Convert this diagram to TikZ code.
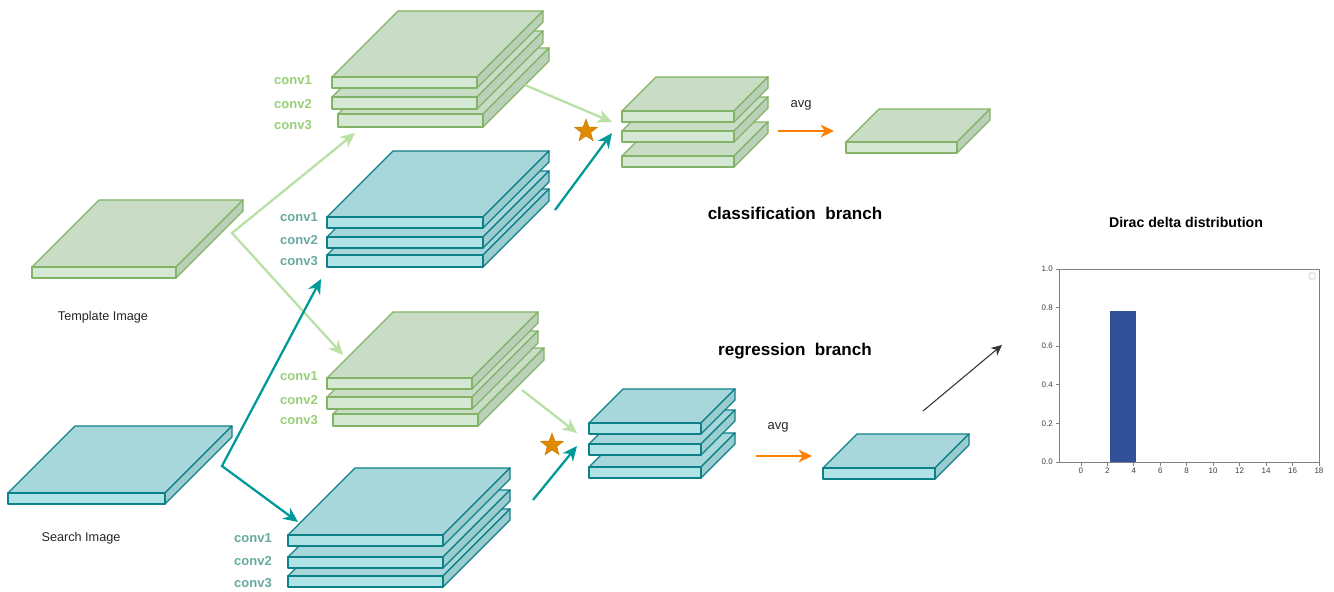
\documentclass[tikz,border=0pt]{standalone}
\usepackage{fontspec}
\setmainfont{Liberation Sans}
\usetikzlibrary{arrows.meta,shapes.geometric}

\definecolor{gFront}{HTML}{D5E8D4}
\definecolor{gTop}{HTML}{C8DCC6}
\definecolor{gSide}{HTML}{BAD0B8}
\definecolor{gLine}{HTML}{82B366}
\definecolor{gText}{HTML}{97D077}
\definecolor{gArrow}{HTML}{B9E0A5}
\definecolor{tFront}{HTML}{B0E3E6}
\definecolor{tTop}{HTML}{A7D7DB}
\definecolor{tSide}{HTML}{9BCCD0}
\definecolor{tLine}{HTML}{0E8088}
\definecolor{tText}{HTML}{67AB9F}
\definecolor{tArrow}{HTML}{009999}
\definecolor{avgArrow}{HTML}{FF8000}
\definecolor{starFill}{HTML}{E08A00}
\definecolor{barBlue}{HTML}{31509A}
\definecolor{axisGray}{HTML}{808080}

% one flat feature-map slab: front face (x1,y1)-(x2,y2), depth offset d
\newcommand\layerslab[6]{%
  \filldraw[#6top] (#1,#2) -- ({#1+#5},{#2-#5}) -- ({#3+#5},{#2-#5}) -- (#3,#2) -- cycle;
  \filldraw[#6side] (#3,#2) -- ({#3+#5},{#2-#5}) -- ({#3+#5},{#4-#5}) -- (#3,#4) -- cycle;
  \filldraw[#6front] (#1,#2) rectangle (#3,#4);
}

\tikzset{
  slabline/.style={line width=1pt, line join=round},
  gtop/.style={slabline, draw=gLine, fill=gTop},
  gside/.style={slabline, draw=gLine, fill=gSide},
  gfront/.style={slabline, draw=gLine, fill=gFront},
  ttop/.style={slabline, draw=tLine, fill=tTop},
  tside/.style={slabline, draw=tLine, fill=tSide},
  tfront/.style={slabline, draw=tLine, fill=tFront},
  convg/.style={anchor=east, text=gText, font=\fontsize{9.75}{11}\selectfont\bfseries, inner sep=0pt},
  convt/.style={anchor=east, text=tText, font=\fontsize{9.75}{11}\selectfont\bfseries, inner sep=0pt},
  caption/.style={font=\fontsize{9.5}{11}\selectfont, text=black!85, inner sep=0pt},
  branch/.style={font=\fontsize{12.8}{14}\selectfont\bfseries, inner sep=0pt},
  bigtip/.style={Stealth[length=11pt,width=10pt,inset=3.5pt]},
  garrow/.style={draw=gArrow, line width=1.7pt, -{Stealth[length=11pt,width=10pt,inset=3.5pt]}},
  tarrow/.style={draw=tArrow, line width=1.7pt, -{Stealth[length=11pt,width=10pt,inset=3.5pt]}},
  oarrow/.style={draw=avgArrow, line width=1.7pt, -{Stealth[length=10pt,width=9.5pt,inset=3pt]}},
  karrow/.style={draw=black!80, line width=0.8pt, -{Stealth[length=8pt,width=7.5pt,inset=2.5pt]}},
  starnode/.style={star, star points=5, star point ratio=2.4, minimum size=18pt, inner sep=0pt, fill=starFill, draw=starFill!85!black, line width=0.3pt},
  ticklab/.style={font=\fontsize{6}{7}\selectfont, text=black!75, inner sep=0pt},
}

\begin{document}
\begin{tikzpicture}[x=0.75pt, y=-0.75pt]
\useasboundingbox (0,0) rectangle (1334,592);
\fill[white] (0,0) rectangle (1334,592);

% ---------- input images ----------
\layerslab{32}{267}{176}{278}{67}{g}
\node[caption] (tmpl) at (103,317) {Template Image};
\layerslab{8}{493}{165}{504}{67}{t}
\node[caption] (srch) at (81,538) {Search Image};

% ---------- template backbone, upper copy ----------
\layerslab{338}{114}{483}{127}{66}{g}
\layerslab{332}{97}{477}{109}{66}{g}
\layerslab{332}{77}{477}{88}{66}{g}
\node[convg] (g1a) at (312,80) {conv1};
\node[convg] (g1b) at (312,104) {conv2};
\node[convg] (g1c) at (312,125) {conv3};

% ---------- search backbone, upper copy ----------
\layerslab{327}{255}{483}{267}{66}{t}
\layerslab{327}{237}{483}{248}{66}{t}
\layerslab{327}{217}{483}{228}{66}{t}
\node[convt] (t1a) at (318,217) {conv1};
\node[convt] (t1b) at (318,240) {conv2};
\node[convt] (t1c) at (318,261) {conv3};

% ---------- template backbone, lower copy ----------
\layerslab{333}{414}{478}{426}{66}{g}
\layerslab{327}{397}{472}{409}{66}{g}
\layerslab{327}{378}{472}{389}{66}{g}
\node[convg] (g2a) at (318,376) {conv1};
\node[convg] (g2b) at (318,400) {conv2};
\node[convg] (g2c) at (318,420) {conv3};

% ---------- search backbone, lower copy ----------
\layerslab{288}{576}{443}{587}{67}{t}
\layerslab{288}{557}{443}{568}{67}{t}
\layerslab{288}{535}{443}{546}{67}{t}
\node[convt] (t2a) at (272,538) {conv1};
\node[convt] (t2b) at (272,561) {conv2};
\node[convt] (t2c) at (272,583) {conv3};

% ---------- correlation outputs ----------
\layerslab{622}{156}{734}{167}{34}{g}
\layerslab{622}{131}{734}{142}{34}{g}
\layerslab{622}{111}{734}{122}{34}{g}
\layerslab{846}{142}{957}{153}{33}{g}

\layerslab{589}{467}{701}{478}{34}{t}
\layerslab{589}{444}{701}{455}{34}{t}
\layerslab{589}{423}{701}{434}{34}{t}
\layerslab{823}{468}{935}{479}{34}{t}

\node[branch] (cls) at (795,213) {classification\ \ branch};
\node[branch] (reg) at (795,351) {regression\ \ branch};

\node[starnode] (star1) at (586,131) {};
\node[starnode] (star2) at (552,445) {};

\node[caption, font=\fontsize{9.75}{11}\selectfont] (avg1) at (801,105) {avg};
\node[caption, font=\fontsize{9.75}{11}\selectfont] (avg2) at (778,427) {avg};

% ---------- connector end points ----------
\coordinate (gFork) at (232,233);
\coordinate (gUp) at (355,133);
\coordinate (gDown) at (343,355);
\coordinate (tFork) at (222,466);
\coordinate (tUp) at (321,279);
\coordinate (tDown) at (298,522);
\coordinate (g1out) at (525,85);
\coordinate (clsIn) at (612,122);
\coordinate (t1out) at (555,210);
\coordinate (clsIn2) at (612,133);
\coordinate (g2out) at (522,390);
\coordinate (regIn) at (577,433);
\coordinate (t2out) at (533,500);
\coordinate (regIn2) at (577,446);
\coordinate (avg1s) at (778,131);
\coordinate (avg1e) at (834,131);
\coordinate (avg2s) at (756,456);
\coordinate (avg2e) at (812,456);
\coordinate (distS) at (923,411);
\coordinate (distE) at (1002,345);

% ---------- connectors ----------
\draw[garrow, {Stealth[length=11pt,width=10pt,inset=3.5pt]}-{Stealth[length=11pt,width=10pt,inset=3.5pt]}] (gUp) -- (gFork) -- (gDown);
\draw[tarrow, {Stealth[length=11pt,width=10pt,inset=3.5pt]}-{Stealth[length=11pt,width=10pt,inset=3.5pt]}] (tUp) -- (tFork) -- (tDown);
\draw[garrow] (g1out) -- (clsIn);
\draw[tarrow] (t1out) -- (clsIn2);
\draw[garrow] (g2out) -- (regIn);
\draw[tarrow] (t2out) -- (regIn2);
\draw[oarrow] (avg1s) -- (avg1e);
\draw[oarrow] (avg2s) -- (avg2e);
\draw[karrow] (distS) -- (distE);

% ---------- Dirac delta plot ----------
\node[font=\fontsize{10.6}{12}\selectfont\bfseries, inner sep=0pt] (dtitle) at (1186,222) {Dirac delta distribution};
% bar from x=2.2 to 4.2, height 0.78
\fill[barBlue] ({1059+(2.2+1.65)*13.23},{462-0.78*193}) rectangle ({1059+(4.2+1.65)*13.23},462);
\draw[axisGray, line width=0.6pt] (1059,269) rectangle (1319,462);
\foreach \v in {0.0,0.2,0.4,0.6,0.8,1.0}{
  \draw[axisGray, line width=0.5pt] (1059,{462-\v*193}) -- (1055.5,{462-\v*193});
  \node[ticklab, anchor=east] at (1053,{462-\v*193}) {\v};
}
\foreach \u in {0,2,...,18}{
  \draw[axisGray, line width=0.5pt] ({1059+(\u+1.65)*13.23},462) -- ({1059+(\u+1.65)*13.23},465.5);
  \node[ticklab, anchor=north] at ({1059+(\u+1.65)*13.23},468) {\u};
}
\draw[black!25, line width=0.4pt, rounded corners=0.8pt] (1309,273) rectangle (1315,279);
\end{tikzpicture}
\end{document}
